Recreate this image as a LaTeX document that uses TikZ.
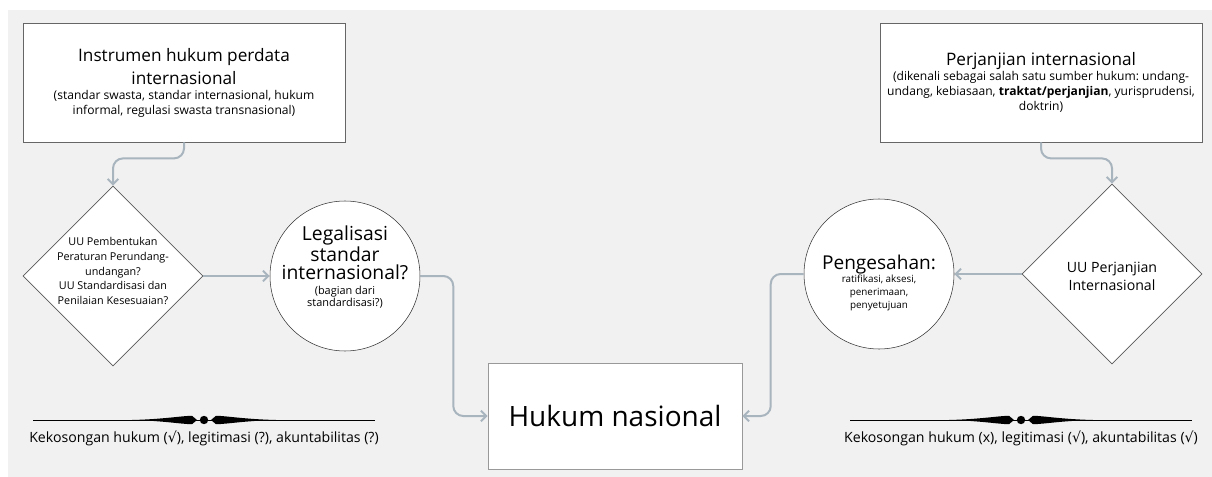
\documentclass[tikz,border=0pt]{standalone}
\usepackage{fontspec}
\setmainfont{Open Sans}
\newfontfamily\simbolfont{DejaVu Sans}
\usetikzlibrary{shapes.geometric,arrows.meta}

\definecolor{latar}{HTML}{F1F1F1}
\definecolor{garis}{HTML}{A8B4BE}
\newcommand{\centang}{{\simbolfont\char"221A}}
\newcommand{\ukuran}[2]{\fontsize{#1}{#2}\selectfont}
\frenchspacing

\tikzset{
	kotak/.style={draw=black!60, line width=0.6pt, fill=white, minimum width=241.5pt, minimum height=89.25pt, inner sep=0pt},
	wajik/.style={draw=black!65, line width=0.45pt, fill=white, shape=diamond, minimum width=135pt, minimum height=135pt, inner sep=0pt},
	bulat/.style={draw=black!80, line width=0.4pt, fill=white, circle, minimum size=112.5pt, inner sep=0pt},
	isi/.style={align=flush center, inner sep=0pt, text width=#1},
	panah/.style={draw=garis, line width=1.5pt, rounded corners=7.5pt, -{Straight Barb[length=4pt,width=8pt]}},
}

\begin{document}
\begin{tikzpicture}[x=0.75pt, y=-0.75pt]
	\useasboundingbox (0,0) rectangle (1212,477);
	\fill[latar] (8,10) rectangle (1212,477);

	\node[kotak, isi=238pt] (instrumen) at (184,82.5) {{\ukuran{12.9}{17.25}Instrumen hukum perdata\\internasional\par}{\ukuran{9.05}{11.25}(standar swasta, standar internasional, hukum\\informal, regulasi swasta transnasional)\par}};
	\node[kotak, isi=238pt] (perjanjian) at (1041,82.5) {{\ukuran{12.9}{17.25}Perjanjian internasional\par}{\ukuran{9.05}{11.25}(dikenali sebagai salah satu sumber hukum: undang-\\undang, kebiasaan, \textbf{traktat/perjanjian}, yurisprudensi,\\doktrin)\par}};

	\node[wajik] (uukiri) at (113,276) {};
	\node[isi=120pt] (teksuukiri) at (113,271) {\ukuran{8.1}{11}UU Pembentukan\\Peraturan Perundang-\\undangan?\\UU Standardisasi dan\\Penilaian Kesesuaian?\par};
	\node[wajik] (uuperjanjian) at (1112,274) {};
	\node[isi=120pt] (teksuuperjanjian) at (1112,276) {\ukuran{10.6}{13.5}UU Perjanjian\\Internasional\par};

	\node[bulat] (legalisasi) at (345,276) {};
	\node[isi=110pt] (tekslegalisasi) at (345,267) {{\ukuran{14.5}{13.4}Legalisasi\\standar\\internasional?\par}\vspace{2pt}{\ukuran{8.2}{9.2}(bagian dari\\standardisasi?)\par}};
	\node[bulat] (pengesahan) at (879,274) {};
	\node[isi=110pt] (tekspengesahan) at (879,283) {{\ukuran{14.3}{15}Pengesahan:\par}{\ukuran{7.4}{9.6}ratifikasi, aksesi,\\penerimaan,\\penyetujuan\par}};

	\node[draw=black!40, line width=0.6pt, fill=white, minimum width=190.5pt, minimum height=79.5pt, inner sep=0pt] (hukum) at (615,416) {\ukuran{21}{24}Hukum nasional};

	\draw[panah] (instrumen.south) -- ++(0,16) -| (uukiri.north);
	\draw[panah] (perjanjian.south) -- ++(0,16) -| (uuperjanjian.north);
	\draw[panah] (uukiri.east) -- (legalisasi.west);
	\draw[panah] (uuperjanjian.west) -- (pengesahan.east);
	\draw[panah] (legalisasi.east) -- ++(33,0) |- (hukum.west);
	\draw[panah] (pengesahan.west) -- ++(-33,0) |- (hukum.east);

	\foreach \cx in {204,1021} {
		\draw[line width=0.75pt] (\cx-171,420) -- (\cx+171,420);
		\fill (\cx-72,420) .. controls (\cx-40,419.2) and (\cx-22,415.8) .. (\cx-12,415.8) -- (\cx-7,420) -- (\cx-12,424.2) .. controls (\cx-22,424.2) and (\cx-40,420.8) .. cycle;
		\fill (\cx+72,420) .. controls (\cx+40,419.2) and (\cx+22,415.8) .. (\cx+12,415.8) -- (\cx+7,420) -- (\cx+12,424.2) .. controls (\cx+22,424.2) and (\cx+40,420.8) .. cycle;
		\fill (\cx,420) circle (4.2);
	}
	\node[inner sep=0pt] (catatankiri) at (204,438) {\ukuran{10.6}{12}Kekosongan hukum (\centang), legitimasi (?), akuntabilitas (?)};
	\node[inner sep=0pt] (catatankanan) at (1021,438) {\ukuran{10.6}{12}Kekosongan hukum (x), legitimasi (\centang), akuntabilitas (\centang)};
\end{tikzpicture}
\end{document}
